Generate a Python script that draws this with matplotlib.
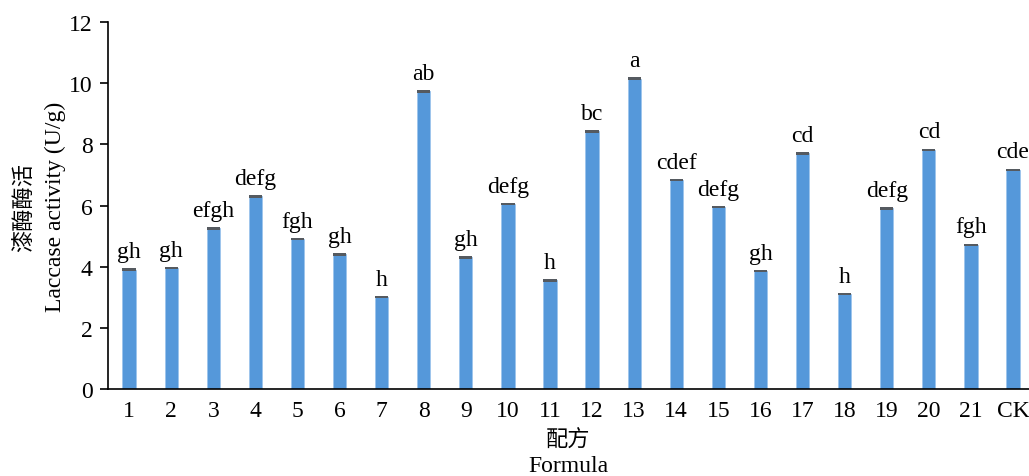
import numpy as np
import matplotlib
matplotlib.use('Agg')
import matplotlib.pyplot as plt

plt.rcParams['font.family'] = ['Liberation Serif', 'Noto Sans CJK SC']
plt.rcParams['font.size'] = 17

formulas = ['1', '2', '3', '4', '5', '6', '7', '8', '9', '10', '11',
            '12', '13', '14', '15', '16', '17', '18', '19', '20', '21', 'CK']
activity = [3.90, 3.95, 5.25, 6.30, 4.90, 4.40, 3.00, 9.74, 4.30, 6.05, 3.55,
            8.43, 10.16, 6.83, 5.95, 3.85, 7.71, 3.10, 5.91, 7.82, 4.71, 7.17]
err = [0.04] * len(activity)
letters = ['gh', 'gh', 'efgh', 'defg', 'fgh', 'gh', 'h', 'ab', 'gh', 'defg', 'h',
           'bc', 'a', 'cdef', 'defg', 'gh', 'cd', 'h', 'defg', 'cd', 'fgh', 'cde']

x = np.arange(1, len(formulas) + 1)
act = np.array(activity)
e = np.array(err)

fig = plt.figure(figsize=(10.29, 4.77), dpi=100)
ax = fig.add_axes([0.105, 0.183, 0.895, 0.768])

ax.bar(x, act, width=0.315, color='#5598da', edgecolor='#9cc4ec', linewidth=0.6)
# standard error drawn as a dark band across the top of each bar
ax.bar(x, 2 * e, bottom=act - e, width=0.315, color='#555a60')

for xi, v, lab in zip(x, act, letters):
    ax.annotate(lab, (xi, v), xytext=(0, 9), textcoords='offset points',
                ha='center', va='baseline', fontsize=17)

ax.set_xlim(0.5, 22.38)
ax.set_ylim(0, 12)
ax.set_yticks(np.arange(0, 13, 2))
ax.set_xticks(x)
ax.set_xticklabels(formulas)
ax.tick_params(axis='x', length=0, pad=8)
ax.tick_params(axis='y', direction='out', length=6, width=1.2, pad=5)

ax.spines['top'].set_visible(False)
ax.spines['right'].set_visible(False)
ax.spines['left'].set_linewidth(1.2)
ax.spines['bottom'].set_linewidth(1.2)

# two-line axis titles: Chinese above English
fig.text(25 / 1029, 1 - 207 / 477, '漆酶酶活', rotation=90, ha='center', va='center', fontsize=16)
fig.text(55 / 1029, 1 - 207 / 477, 'Laccase activity (U/g)', rotation=90,
         ha='center', va='center', fontsize=17)
fig.text(568 / 1029, 1 - 441 / 477, '配方', ha='center', va='center', fontsize=16)
fig.text(568 / 1029, 1 - 467 / 477, 'Formula', ha='center', va='center', fontsize=17)

fig.savefig('out.png', dpi=100)
